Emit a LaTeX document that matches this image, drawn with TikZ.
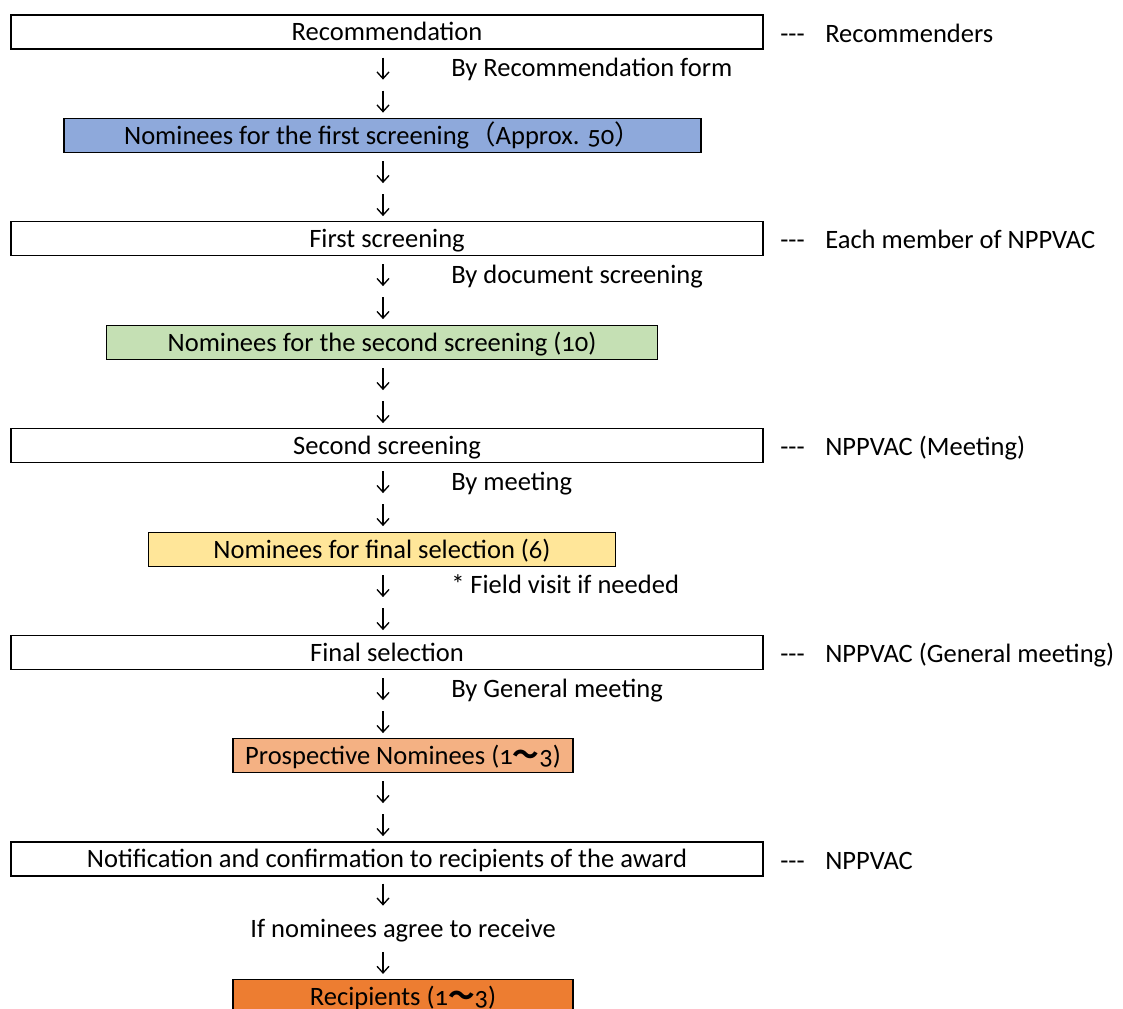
\documentclass[tikz,border=0pt]{standalone}
\usepackage{fontspec}
\setmainfont{Carlito}[Numbers=OldStyle]
\newfontfamily\cjk{Noto Sans CJK JP}
\usetikzlibrary{arrows.meta,calc}
\definecolor{cblue}{HTML}{8EA9DB}
\definecolor{cgreen}{HTML}{C5E0B4}
\definecolor{cyellow}{HTML}{FFE699}
\definecolor{csalmon}{HTML}{F4B183}
\definecolor{corange}{HTML}{ED7D31}
\newcommand\wdash{{\cjk\bfseries 〜}}
\tikzset{
  every node/.append style={text height=16pt,text depth=3pt},
  stagebox/.style={draw=black,line width=0.9pt,minimum height=25.5pt,inner sep=0pt,anchor=center},
  whitebox/.style={stagebox,fill=white,minimum width=564pt},
  lbl/.style={anchor=west,inner sep=0pt},
  flow/.style={line width=1pt,-{Straight Barb[length=5pt,width=9pt]}}
}
\newcommand\flowpair[1]{%
  \draw[flow] ($(#1.south -| axis)+(0,8)$) -- ($(#1.south -| axis)+(0,30)$);
  \draw[flow] ($(#1.south -| axis)+(0,41)$) -- ($(#1.south -| axis)+(0,63)$);
}
\begin{document}
\begin{tikzpicture}[x=0.75pt,y=-0.75pt,font=\fontsize{19.9}{24}\selectfont]
\useasboundingbox (0,0) rectangle (1123,1008);
\coordinate (axis) at (383,0);

\node[whitebox] (rec) at (387,32) {Recommendation};
\node[stagebox,fill=cblue,minimum width=477.75pt] (nom1) at (382.5,135.5) {Nominees for the first screening{\cjk （}Approx. 50{\cjk ）}};
\node[whitebox] (scr1) at (387,238.5) {First screening};
\node[stagebox,fill=cgreen,minimum width=413.25pt] (nom2) at (382,342.5) {Nominees for the second screening (10)};
\node[whitebox] (scr2) at (387,445.5) {Second screening};
\node[stagebox,fill=cyellow,minimum width=350pt] (nom3) at (382,549.5) {Nominees for final selection (6)};
\node[whitebox] (fin) at (387,652.5) {Final selection};
\node[stagebox,fill=csalmon,minimum width=255pt] (pros) at (403,755.5) {Prospective Nominees (1\wdash 3)};
\node[whitebox] (notif) at (387,859) {Notification and confirmation to recipients of the award};
\node[stagebox,fill=corange,minimum width=255pt] (recip) at (403,996.5) {Recipients (1\wdash 3)};

\flowpair{rec}
\flowpair{nom1}
\flowpair{scr1}
\flowpair{nom2}
\flowpair{scr2}
\flowpair{nom3}
\flowpair{fin}
\flowpair{pros}

\node[lbl] (l1) at (451,68) {By Recommendation form};
\node[lbl] (l2) at (451,275) {By document screening};
\node[lbl] (l3) at (451,482) {By meeting};
\node[lbl] (l4) at (451,585) {* Field visit if needed};
\node[lbl] (l5) at (451,689) {By General meeting};

\node[anchor=center,inner sep=0pt] (agree) at (403,929) {If nominees agree to receive};
\draw[flow] ($(notif.south -| axis)+(0,7)$) -- ($(notif.south -| axis)+(0,29)$);
\draw[flow] ($(recip.north -| axis)+(0,-27)$) -- ($(recip.north -| axis)+(0,-5)$);

\foreach \nm/\yy/\tx in {rec/33.5/Recommenders, scr1/240/Each member of NPPVAC, scr2/447/NPPVAC (Meeting), fin/654/NPPVAC (General meeting), notif/860.5/NPPVAC}{
  \node[lbl] (d-\nm) at (780,\yy) {-{}-{}-};
  \node[lbl] (r-\nm) at (825,\yy) {\tx};
}
\end{tikzpicture}
\end{document}
